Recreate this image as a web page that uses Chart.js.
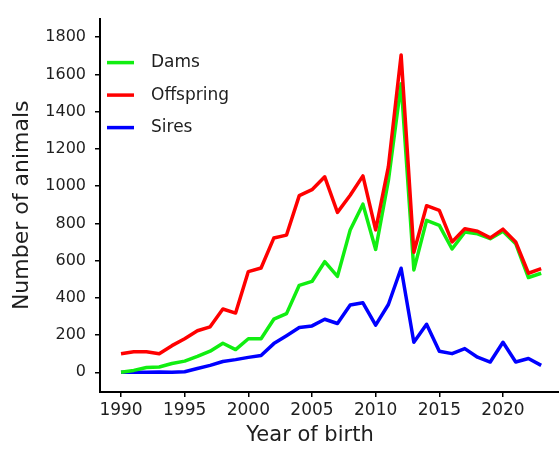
<!DOCTYPE html>
<html>
<head>
<meta charset="utf-8">
<script src="https://cdn.jsdelivr.net/npm/chart.js@4.4.0/dist/chart.umd.min.js"></script>
<style>
  html, body { margin: 0; padding: 0; background: #ffffff; }
  canvas { display: block; }
</style>
</head>
<body>
<canvas id="chart" width="559" height="449"></canvas>
<script>
// Animals recorded per year of birth
const years = [1990, 1991, 1992, 1993, 1994, 1995, 1996, 1997, 1998, 1999,
               2000, 2001, 2002, 2003, 2004, 2005, 2006, 2007, 2008, 2009,
               2010, 2011, 2012, 2013, 2014, 2015, 2016, 2017, 2018, 2019,
               2020, 2021, 2022, 2023];

const dams = [0, 10, 26, 28, 47, 60, 85, 113, 156, 122,
              180, 180, 285, 315, 467, 488, 594, 515, 764, 903,
              660, 1030, 1550, 550, 816, 789, 662, 753, 744, 718,
              758, 691, 509, 532];

const offspring = [100, 110, 110, 100, 143, 180, 223, 244, 340, 318,
                   541, 560, 721, 737, 949, 981, 1050, 859, 951, 1055,
                   765, 1105, 1705, 645, 895, 870, 700, 771, 758, 722,
                   769, 700, 532, 557];

const sires = [0, 0, 0, 2, 0, 3, 20, 37, 58, 68,
               80, 90, 154, 196, 240, 249, 285, 262, 361, 373,
               253, 364, 559, 161, 258, 113, 100, 127, 81, 55,
               161, 55, 74, 37];

const xTickValues = [1990, 1995, 2000, 2005, 2010, 2015, 2020];
const yTickValues = [0, 200, 400, 600, 800, 1000, 1200, 1400, 1600, 1800];

const seriesNames = ['Dams', 'Offspring', 'Sires'];
const seriesColors = ['#11ee11', '#ff0000', '#0000ff'];

const FONT = '"DejaVu Sans", "Liberation Sans", Arial, sans-serif';
const TEXT = '#1e1e1e';

function toPoints(values) {
  return years.map((yr, i) => ({ x: yr, y: values[i] }));
}

// Key drawn inside the upper-left corner of the plot area
const insideLegend = {
  id: 'insideLegend',
  afterDatasetsDraw(chart) {
    const ctx = chart.ctx;
    const area = chart.chartArea;
    ctx.save();
    ctx.font = '17px ' + FONT;
    ctx.textBaseline = 'middle';
    ctx.textAlign = 'left';
    chart.data.datasets.forEach((ds, i) => {
      const y = area.top + 44 + i * 32.5;
      ctx.strokeStyle = ds.borderColor;
      ctx.lineWidth = 3.5;
      ctx.lineCap = 'butt';
      ctx.beginPath();
      ctx.moveTo(area.left + 7, y);
      ctx.lineTo(area.left + 34, y);
      ctx.stroke();
      ctx.fillStyle = TEXT;
      ctx.fillText(ds.label, area.left + 51, y);
    });
    ctx.restore();
  }
};

// Horizontal axis title
const xTitle = {
  id: 'xTitle',
  afterDraw(chart) {
    const ctx = chart.ctx;
    ctx.save();
    ctx.font = '21px ' + FONT;
    ctx.fillStyle = TEXT;
    ctx.textAlign = 'center';
    ctx.textBaseline = 'middle';
    ctx.fillText('Year of birth', 310, 436);
    ctx.restore();
  }
};

const seriesValues = [dams, offspring, sires];
const drawOrder = [1, 0, 2];

new Chart(document.getElementById('chart'), {
  type: 'line',
  data: {
    datasets: seriesNames.map((name, i) => ({
      label: name,
      data: toPoints(seriesValues[i]),
      borderColor: seriesColors[i],
      backgroundColor: seriesColors[i],
      borderWidth: 3.5,
      pointRadius: 0,
      tension: 0,
      fill: false,
      borderJoinStyle: 'round',
      order: drawOrder[i]
    }))
  },
  options: {
    responsive: false,
    animation: false,
    devicePixelRatio: 1,
    layout: { padding: { top: 13, right: 0, left: 0, bottom: 0 } },
    plugins: {
      legend: { display: false },
      tooltip: { enabled: false }
    },
    scales: {
      x: {
        type: 'linear',
        min: 1988.35,
        max: 2024.4,
        afterBuildTicks(scale) {
          scale.ticks = xTickValues.map(v => ({ value: v }));
        },
        afterFit(scale) { scale.height = 57; },
        grid: {
          drawOnChartArea: false,
          drawTicks: true,
          tickLength: 5,
          color: '#000000',
          lineWidth: 1.5
        },
        border: { display: true, color: '#000000', width: 2 },
        ticks: {
          color: TEXT,
          font: { family: FONT, size: 17 },
          padding: 3,
          maxRotation: 0,
          callback: v => String(v)
        }
      },
      y: {
        type: 'linear',
        min: -106,
        max: 1900,
        afterBuildTicks(scale) {
          scale.ticks = yTickValues.map(v => ({ value: v }));
        },
        afterFit(scale) { scale.width = 100; },
        grid: {
          drawOnChartArea: false,
          drawTicks: true,
          tickLength: 5,
          color: '#000000',
          lineWidth: 1.5
        },
        border: { display: true, color: '#000000', width: 2 },
        ticks: {
          color: TEXT,
          font: { family: FONT, size: 16 },
          padding: 9,
          callback: v => String(v)
        },
        title: {
          display: true,
          text: 'Number of animals',
          color: TEXT,
          font: { family: FONT, size: 22, lineHeight: 1.2 },
          padding: { top: 9, bottom: 0 }
        }
      }
    }
  },
  plugins: [insideLegend, xTitle]
});
</script>
</body>
</html>
